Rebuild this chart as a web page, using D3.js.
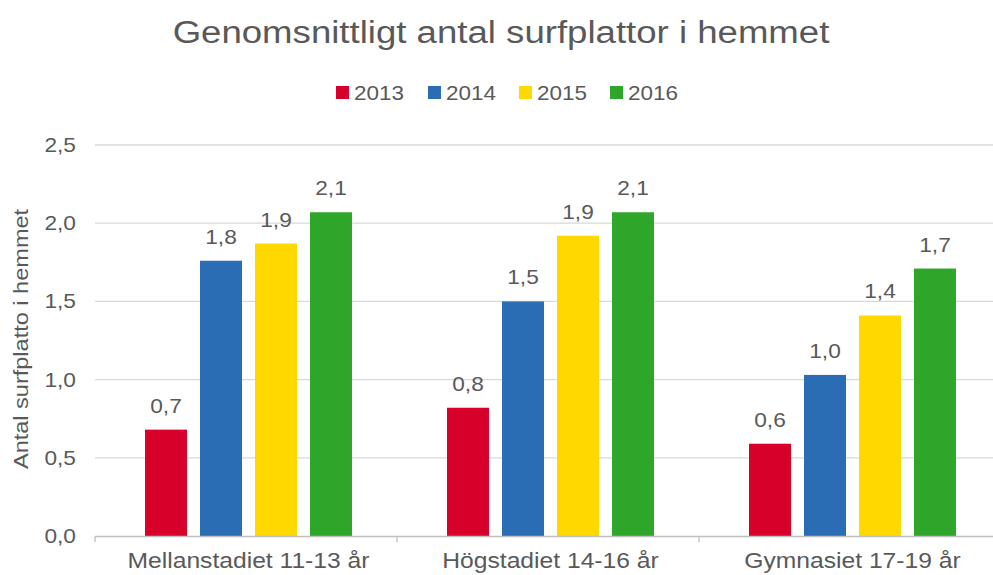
<!DOCTYPE html>
<html><head><meta charset="utf-8">
<script src="https://cdn.jsdelivr.net/npm/d3@7"></script>
<style>body{margin:0;background:#fff;} svg{display:block;font-family:"Liberation Sans",Arial,sans-serif;}</style>
</head><body>
<script>
const categories = ["Mellanstadiet 11-13 år", "Högstadiet 14-16 år", "Gymnasiet 17-19 år"];
const seriesNames = ["2013", "2014", "2015", "2016"];
const v2013 = [0.68, 0.82, 0.59];
const v2014 = [1.76, 1.50, 1.03];
const v2015 = [1.87, 1.92, 1.41];
const v2016 = [2.07, 2.07, 1.71];
const yTicks = [0, 0.5, 1.0, 1.5, 2.0, 2.5];
const colors = ["#d7002a", "#2a6db4", "#ffd800", "#2ea62a"];
const series = [v2013, v2014, v2015, v2016];

const W = 993, H = 575;
const svg = d3.select("body").append("svg").attr("width", W).attr("height", H);
const fmt = v => d3.format(".1f")(v).replace(".", ",");
const textColor = "#595959";

function stretch(sel, k) {
  sel.each(function() {
    const len = this.getComputedTextLength();
    d3.select(this).attr("textLength", len * k).attr("lengthAdjust", "spacingAndGlyphs");
  });
}

const x0 = d3.scaleBand().domain(categories).range([95, 1001]).padding(0);
const x1 = d3.scaleBand().domain(seriesNames).range([50, 257]).paddingInner(13/55).paddingOuter(0);
const y = d3.scaleLinear().domain([0, 2.5]).range([536, 145]);

// gridlines
svg.append("g").selectAll("line").data(yTicks.slice(1)).join("line")
  .attr("x1", 95).attr("x2", 1001).attr("y1", d => y(d)).attr("y2", d => y(d))
  .attr("stroke", "#d9d9d9").attr("stroke-width", 1.3);

// y labels
const yl = svg.append("g").selectAll("text").data(yTicks).join("text")
  .attr("x", 76).attr("y", d => y(d)).attr("dy", "0.33em").attr("text-anchor", "end")
  .attr("font-size", 21).attr("fill", textColor).text(d => fmt(d));
stretch(yl, 1.08);

// bars
const g = svg.append("g");
categories.forEach((c, ci) => {
  series.forEach((s, si) => {
    const bx = x0(c) + x1(seriesNames[si]);
    g.append("rect").attr("x", bx).attr("y", y(s[ci])).attr("width", x1.bandwidth())
      .attr("height", y(0) - y(s[ci])).attr("fill", colors[si]);
    const t = g.append("text").attr("x", bx + x1.bandwidth()/2).attr("y", y(s[ci]) - 17)
      .attr("text-anchor", "middle").attr("font-size", 21).attr("fill", textColor).text(fmt(s[ci]));
    stretch(t, 1.08);
  });
});

// x axis
const xa = svg.append("g");
xa.append("line").attr("x1", 95).attr("x2", 1001).attr("y1", 536.5).attr("y2", 536.5).attr("stroke", "#bfbfbf").attr("stroke-width", 1.3);
const tickXs = [x0.range()[0]].concat(categories.slice(1).map(c => x0(c)));
xa.selectAll("line.t").data(tickXs).join("line").attr("class", "t")
  .attr("x1", d => d).attr("x2", d => d).attr("y1", 536.5).attr("y2", 542).attr("stroke", "#bfbfbf").attr("stroke-width", 1.3);
const xl = xa.selectAll("text").data(categories).join("text")
  .attr("x", d => x0(d) + 50 + 207/2).attr("y", 568).attr("text-anchor", "middle")
  .attr("font-size", 22).attr("fill", textColor).text(d => d);
stretch(xl, 1.12);

// y title
const yt = svg.append("text").attr("transform", "translate(28,339) rotate(-90)").attr("text-anchor", "middle")
  .attr("font-size", 21).attr("fill", textColor).text("Antal surfplatto i hemmet");
stretch(yt, 1.12);

// title
const tt = svg.append("text").attr("x", 501).attr("y", 43).attr("text-anchor", "middle")
  .attr("font-size", 31).attr("fill", textColor).text("Genomsnittligt antal surfplattor i hemmet");
stretch(tt, 1.18);

// legend
const leg = svg.append("g");
const legX = [336, 428, 519, 610];
seriesNames.forEach((n, i) => {
  leg.append("rect").attr("x", legX[i]).attr("y", 86).attr("width", 13).attr("height", 13).attr("fill", colors[i]);
  const lt = leg.append("text").attr("x", legX[i] + 18).attr("y", 100).attr("font-size", 21).attr("fill", textColor).text(n);
  stretch(lt, 1.07);
});
</script>
</body></html>
